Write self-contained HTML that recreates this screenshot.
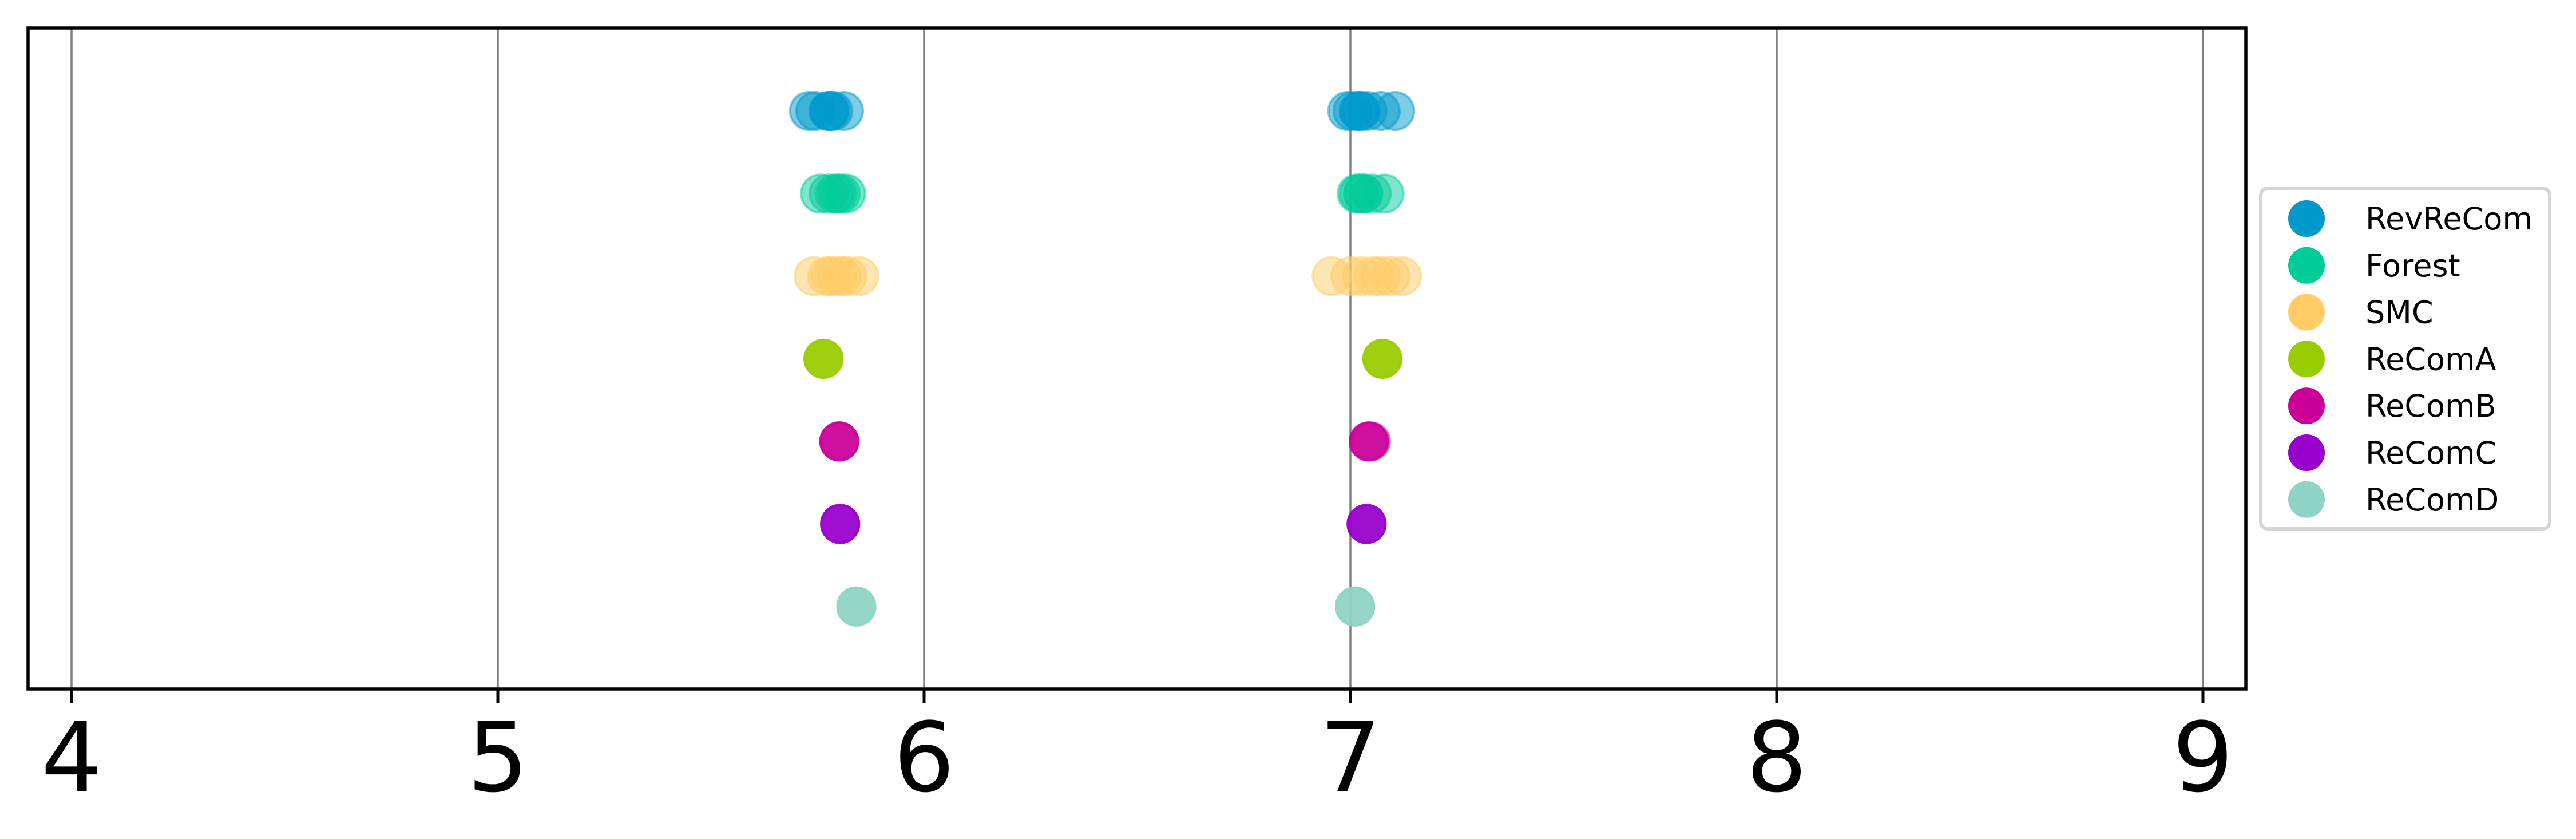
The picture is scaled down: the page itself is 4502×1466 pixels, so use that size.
<!DOCTYPE html>
<html><head><meta charset="utf-8">
<style>
html,body{margin:0;padding:0;background:#fff;}
svg{display:block;}
text{font-family:"DejaVu Sans","Liberation Sans",sans-serif;}
</style></head>
<body>
<svg id="chart" width="4502" height="1466" viewBox="0 0 4502 1466" xmlns="http://www.w3.org/2000/svg">
<rect x="0" y="0" width="4502" height="1466" fill="#fff"/>
<g id="grid"></g>
<g id="points"></g>
<rect x="49" y="49" width="3876" height="1155" fill="none" stroke="#000" stroke-width="5.5"/>
<g id="ticks"></g>
<g id="legend">
<rect x="3951" y="329" width="505" height="595" rx="12" fill="#fff" stroke="#d5d5d5" stroke-width="6"/>
</g>
</svg>
<script>
const xTicks = [4,5,6,7,8,9];
const seriesNames = ["RevReCom","Forest","SMC","ReComA","ReComB","ReComC","ReComD"];
const seriesColors = ["#0099cc","#00cc99","#ffcc66","#99cc00","#cc0099","#9900cc","#8fd3c6"];
const revrecomVals = [5.730,5.745,5.776,5.776,5.780,5.787,5.812,6.993,7.005,7.02,7.02,7.025,7.04,7.071,7.105];
const forestVals = [5.756,5.776,5.790,5.797,5.805,5.817,7.015,7.02,7.03,7.03,7.05,7.08];
const smcVals = [5.741,5.772,5.780,5.795,5.807,5.820,5.848,6.956,7.0,7.027,7.054,7.071,7.094,7.121];
const recomAVals = [5.764,5.764,5.764,5.764,7.075,7.075,7.075,7.075];
const recomBVals = [5.801,5.801,5.801,5.801,7.043,7.043,7.043,7.048];
const recomCVals = [5.803,5.803,5.803,5.803,7.038,7.038,7.038,7.038];
const recomDVals = [5.841,5.841,5.841,5.841,7.011,7.011,7.011,7.011];
const allVals = [revrecomVals,forestVals,smcVals,recomAVals,recomBVals,recomCVals,recomDVals];

const NS="http://www.w3.org/2000/svg";
const X0=125, XPER=745, XMIN=4;
function xs(v){return X0+(v-XMIN)*XPER;}
const ROW0=194, ROWSTEP=144.3;
function ys(i){return ROW0+i*ROWSTEP;}
function mk(tag,attrs,parent){const e=document.createElementNS(NS,tag);for(const k in attrs)e.setAttribute(k,attrs[k]);parent.appendChild(e);return e;}

const grid=document.getElementById('grid'), ticks=document.getElementById('ticks');
xTicks.forEach(t=>{
  const g=mk('line',{x1:xs(t),x2:xs(t),y1:49,y2:1204,stroke:'#808080',"stroke-width":3.5},grid);
  
  
  const tk=mk('line',{x1:xs(t),x2:xs(t),y1:1204,y2:1228,stroke:'#000',"stroke-width":5},ticks);
  
  
  const tx=mk('text',{x:xs(t),y:1382,"text-anchor":"middle","font-size":168,fill:'#000'},ticks);
  tx.textContent=String(t);
  
  
});

const pts=document.getElementById('points');
allVals.forEach((vals,i)=>{
  vals.forEach(v=>{
    const c=mk('circle',{cx:xs(v),cy:ys(i),r:33,fill:seriesColors[i],"fill-opacity":0.5,stroke:seriesColors[i],"stroke-opacity":0.5,"stroke-width":4},pts);
    
    
  });
});

const leg=document.getElementById('legend');
seriesNames.forEach((n,i)=>{
  const y=382+i*81.8;
  const c=mk('ellipse',{cx:4031,cy:y,rx:32,ry:32,fill:seriesColors[i]},leg);
  
  
  const t=mk('text',{x:4134,y:y+19,"font-size":54,fill:'#000'},leg);
  t.textContent=n;
  
  
});
</script>
</body></html>
